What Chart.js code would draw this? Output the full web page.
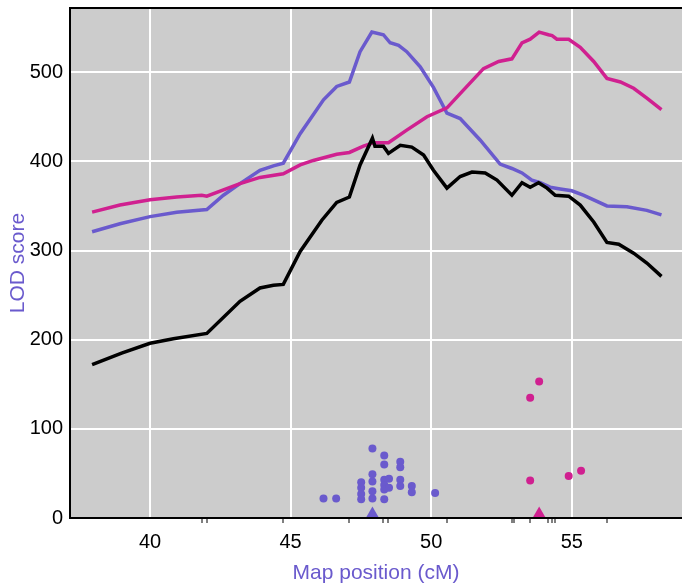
<!DOCTYPE html>
<html>
<head>
<meta charset="utf-8">
<script src="https://cdn.jsdelivr.net/npm/chart.js@4/dist/chart.umd.min.js"></script>
<style>
  html, body { margin: 0; padding: 0; background: #fff; }
  #wrap { width: 682px; height: 586px; }
</style>
</head>
<body>
<div id="wrap"><canvas id="lodChart"></canvas></div>
<script>
// LOD curves (map position in cM, LOD score)
const blueX = [37.94, 38.93, 40.0, 40.95, 42.02, 42.61, 43.2, 43.91, 44.39, 44.74, 45.34, 46.17, 46.64, 47.09, 47.47, 47.89, 48.30, 48.54, 48.84, 49.13, 49.61, 50.08, 50.56, 51.03, 51.74, 52.45, 52.87, 53.23, 53.58, 53.88, 54.23, 54.59, 55.0, 55.41, 56.25, 56.96, 57.67, 58.19];
const blueY = [321, 330, 338, 343, 346, 362, 375, 390, 395, 398, 431, 469, 484, 489, 523, 545, 542, 533, 530, 523, 506, 483, 454, 448, 424, 397, 392, 387, 379, 376, 371, 369, 367, 362, 350, 349, 345, 340];

const pinkX = [37.94, 38.93, 40.0, 40.95, 41.84, 42.02, 43.2, 43.91, 44.74, 45.34, 45.81, 46.64, 47.09, 47.59, 47.95, 48.48, 49.13, 49.85, 50.56, 51.03, 51.86, 52.40, 52.87, 53.23, 53.52, 53.84, 54.17, 54.30, 54.47, 54.89, 55.30, 55.78, 56.25, 56.73, 57.2, 57.67, 58.19];
const pinkY = [343, 351, 357, 360, 362, 361, 375, 382, 386, 396, 401, 408, 410, 417, 421, 421, 435, 450, 460, 476, 504, 512, 515, 533, 537, 545, 542, 541, 537, 537, 528, 512, 493, 489, 482, 471, 458];

const blackX = [37.94, 38.99, 40.0, 40.83, 42.02, 43.2, 43.91, 44.39, 44.74, 45.34, 46.11, 46.64, 47.09, 47.47, 47.91, 48.0, 48.30, 48.48, 48.9, 49.31, 49.73, 50.08, 50.56, 51.03, 51.45, 51.92, 52.34, 52.87, 53.23, 53.52, 53.82, 54.12, 54.41, 54.89, 55.3, 55.78, 56.25, 56.67, 57.2, 57.67, 58.19];
const blackY = [172, 185, 196, 201, 207, 243, 258, 261, 262, 299, 334, 354, 360, 396, 426, 417, 417, 409, 418, 416, 407, 390, 370, 383, 388, 387, 379, 362, 376, 371, 376, 370, 362, 361, 351, 332, 309, 307, 297, 286, 271];

// individual points
const blueDotX = [46.17, 46.62, 47.91, 48.33, 48.33, 48.90, 48.90, 48.90, 48.90, 49.31, 49.31, 50.14, 47.51, 47.51, 47.51, 47.51, 47.91, 47.91, 47.91, 47.91, 48.33, 48.33, 48.33, 48.33, 48.50, 48.50];
const blueDotY = [22, 22, 78, 70, 60, 63, 57, 43, 36, 36, 29, 28, 40, 34, 27, 21, 49, 41, 30, 22, 43, 37, 32, 21, 44, 34];
const pinkDotX = [53.84, 53.52, 53.52, 54.89, 55.33];
const pinkDotY = [153, 135, 42, 47, 53];

// peak markers
const blueTriX = [47.91];
const pinkTriX = [53.84];
const triY = 5;

// axis ticks
const majorTicks = [40, 45, 50, 55];
const markerPos = [41.84, 42.02, 44.74, 47.09, 48.30, 48.48, 50.56, 52.87, 52.93, 53.52, 54.17, 54.30, 54.41, 56.25];

const BLUE = '#6A5ACD';
const PINK = '#D02090';
const FONT = 'Liberation Sans, Arial, sans-serif';

function pts(xs, ys) {
  return xs.map((x, i) => ({ x: x, y: Array.isArray(ys) ? ys[i] : ys }));
}

// grey panel behind everything
const panelBg = {
  id: 'panelBg',
  beforeDraw(chart) {
    const { ctx, chartArea: a } = chart;
    ctx.save();
    ctx.fillStyle = '#cccccc';
    ctx.fillRect(a.left, a.top, a.right - a.left, a.bottom - a.top);
    ctx.restore();
  }
};

const lineDs = (label, data, color) => ({
  type: 'line', label, data, borderColor: color, borderWidth: 3.5,
  pointRadius: 0, tension: 0, fill: false
});

const dotDs = (label, data, color, style, r) => ({
  type: 'scatter', label, data, backgroundColor: color, borderColor: color,
  borderWidth: 0, pointStyle: style, pointRadius: r
});

// drop the label overhang padding so the panel fills the canvas edges
const noPad = s => { s.paddingTop = 0; s.paddingBottom = 0; s.paddingLeft = 0; s.paddingRight = 0; };

new Chart(document.getElementById('lodChart'), {
  type: 'scatter',
  data: {
    datasets: [
      lineDs('black', pts(blackX, blackY), '#000000'),
      lineDs('pink', pts(pinkX, pinkY), PINK),
      lineDs('blue', pts(blueX, blueY), BLUE),
      dotDs('blue dots', pts(blueDotX, blueDotY), BLUE, 'circle', 4),
      dotDs('pink dots', pts(pinkDotX, pinkDotY), PINK, 'circle', 4),
      dotDs('blue peak', pts(blueTriX, triY), BLUE, 'triangle', 7),
      dotDs('pink peak', pts(pinkTriX, triY), PINK, 'triangle', 7)
    ]
  },
  options: {
    responsive: true,
    maintainAspectRatio: false,
    animation: false,
    layout: { padding: 0, autoPadding: false },
    plugins: { legend: { display: false }, tooltip: { enabled: false } },
    scales: {
      x: {
        type: 'linear', position: 'bottom', min: 37.154, max: 58.92,
        afterBuildTicks: axis => {
          axis.ticks = majorTicks.concat(markerPos).map(v => ({ value: v }));
        },
        afterFit: s => { s.height = 68; noPad(s); },
        ticks: {
          autoSkip: false, maxRotation: 0, color: '#000', padding: 7,
          font: { family: FONT, size: 20 },
          callback: v => majorTicks.includes(v) ? String(v) : ''
        },
        grid: {
          lineWidth: 2, tickLength: 5, tickWidth: 1,
          color: c => majorTicks.includes(c.tick.value) ? '#ffffff' : 'rgba(0,0,0,0)',
          tickColor: c => majorTicks.includes(c.tick.value) ? 'rgba(0,0,0,0)' : '#000000'
        },
        border: { display: true, color: '#000', width: 2 },
        title: {
          display: true, text: 'Map position (cM)', color: BLUE,
          font: { family: FONT, size: 21 },
          padding: { top: 0, bottom: 0 }
        }
      },
      xTop: {
        type: 'linear', position: 'top', min: 37.154, max: 58.92,
        afterFit: s => { s.height = 8; noPad(s); },
        ticks: { display: false },
        grid: { display: false },
        border: { display: true, color: '#000', width: 2 }
      },
      y: {
        min: 0, max: 572,
        afterBuildTicks: axis => {
          axis.ticks = [0, 100, 200, 300, 400, 500].map(v => ({ value: v }));
        },
        afterFit: s => { s.width = 70; noPad(s); },
        ticks: {
          color: '#000', padding: 7,
          font: { family: FONT, size: 20 }
        },
        grid: { color: '#ffffff', lineWidth: 2, drawTicks: false },
        border: { display: true, color: '#000', width: 2 },
        title: {
          display: true, text: 'LOD score', color: BLUE,
          font: { family: FONT, size: 21 },
          padding: { top: 6, bottom: 0 }
        }
      }
    }
  },
  plugins: [panelBg]
});
</script>
</body>
</html>
